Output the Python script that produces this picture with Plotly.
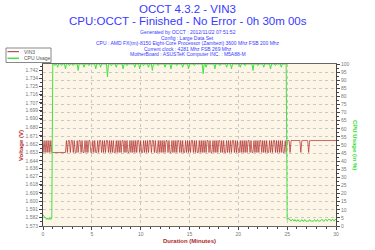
import plotly.graph_objects as go

# ---------------- data ----------------
SAMPLE_STEP_MIN = 0.1
TIME_MIN = [round(i * SAMPLE_STEP_MIN, 1) for i in range(301)]

CPU_USAGE = [
    7, 6, 5, 5, 4, 5, 4, 5, 4, 5,
    100, 100, 99, 100, 100, 98, 100, 100, 100, 99,
    100, 100, 100, 97, 100, 100, 100, 99, 100, 100,
    100, 99, 100, 100, 100, 100, 96, 100, 100, 100,
    100, 100, 98, 100, 100, 100, 100, 99, 100, 100,
    100, 100, 100, 100, 97, 100, 100, 100, 100, 98,
    100, 100, 100, 100, 100, 100, 92, 100, 100, 100,
    99, 100, 100, 100, 100, 98, 100, 100, 100, 100,
    100, 100, 97, 100, 100, 100, 99, 100, 100, 100,
    100, 100, 100, 100, 98, 100, 100, 100, 100, 97,
    100, 100, 100, 99, 100, 100, 100, 100, 98, 100,
    100, 100, 96, 100, 100, 100, 100, 100, 99, 100,
    100, 100, 100, 100, 100, 98, 100, 100, 100, 100,
    100, 97, 100, 100, 100, 100, 100, 99, 100, 100,
    100, 100, 100, 98, 100, 100, 100, 100, 100, 97,
    100, 100, 100, 100, 100, 99, 100, 100, 100, 100,
    100, 100, 100, 100, 94, 100, 100, 98, 100, 100,
    100, 100, 100, 100, 100, 100, 97, 100, 100, 100,
    100, 99, 100, 100, 100, 100, 100, 100, 98, 100,
    100, 100, 100, 97, 100, 100, 100, 100, 100, 100,
    100, 100, 98, 100, 100, 100, 100, 99, 100, 100,
    100, 100, 100, 100, 100, 96, 100, 100, 100, 100,
    99, 100, 100, 100, 100, 100, 98, 100, 100, 100,
    100, 100, 100, 97, 100, 100, 100, 100, 99, 100,
    100, 100, 100, 100, 98, 100, 100, 100, 100, 100,
    4, 5, 4, 4, 3, 4, 4, 3, 4, 3,
    3, 4, 3, 3, 3, 4, 3, 3, 4, 3,
    3, 3, 3, 4, 3, 3, 3, 3, 4, 3,
    3, 4, 3, 3, 3, 4, 4, 3, 3, 4,
    4, 3, 4, 4, 4, 3, 4, 4, 3, 4,
    4,
]

VOLT_LEVELS = {"H": 1.666, "L": 1.653}
VOLT_STATES = (
    "HLHLHLHLHL LLLLLLLLLL LLLLHLHHLH "
    "HLHLLHLHHL HLLHLHLHHL LHLHLLHLHH LHLHLHHLHL HLHLLHLHLH "
    "LHHLHLHLLH LHLHLHLHHL HLLHLHLHLH HLHHLHLLHL HLHLHLHHLH "
    "LLHLHLHLHH LHLHLLHLHL HLHHLHLHLL HLHLHLHLHH LHLLHLHLHL "
    "HHLHLHLLHL HLHLHHLHLH LLHLHLHLHL HHLHLLHLHL HLHHLHLHLH "
    "LLHLHLHHLH LHLHLHLLHL "
    "HHHLHHHHHH HHHHLHHHHH HHLHHHHHHH HHHHHHHHHH HHHHHHHHHH H"
).replace(" ", "")
VOLTAGE = [VOLT_LEVELS[s] for s in VOLT_STATES]

VOLT_TICK_LABELS = ["1.573", "1.582", "1.591", "1.600", "1.609", "1.618", "1.627",
                    "1.636", "1.644", "1.653", "1.662", "1.671", "1.680", "1.690",
                    "1.699", "1.707", "1.716", "1.725", "1.734", "1.742"]

TITLE = "OCCT 4.3.2 - VIN3"
SUBTITLE = "CPU:OCCT - Finished - No Error - 0h 30m 00s"
INFO_LINES = [
    "Generated by OCCT : 2012/11/22 07:51:52",
    "Config : Large Data Set",
    "CPU : AMD FX(tm)-8150 Eight-Core Processor (Zambezi) 3600 Mhz FSB 200 Mhz",
    "Current clock : 4281 Mhz FSB 269 Mhz",
    "MotherBoard : ASUSTeK Computer INC. : M5A88-M",
]

# ---------------- layout helpers ----------------
W, H = 375, 250
L, R, T, B = 43, 336, 64, 226
def px(x): return (x - L) / (R - L)
def py(y): return (B - y) / (B - T)

FONT = "Liberation Sans, Arial, sans-serif"
RED = "#b02a2a"
GREEN = "#44e044"
BLUE = "#3a3aff"
TICKC = "#777777"

fig = go.Figure()
fig.add_trace(go.Scatter(x=TIME_MIN, y=VOLTAGE, mode="lines", name="VIN3",
                         line=dict(color=RED, width=0.7), yaxis="y", showlegend=False))
fig.add_trace(go.Scatter(x=TIME_MIN, y=CPU_USAGE, mode="lines", name="CPU Usage",
                         line=dict(color=GREEN, width=1), yaxis="y2", showlegend=False))

tickfont = dict(family=FONT, size=5, color=TICKC)
fig.update_layout(
    width=W, height=H,
    margin=dict(l=L, r=W - R, t=T, b=H - B, pad=0),
    paper_bgcolor="white", plot_bgcolor="#fdf5e6",
    xaxis=dict(range=[0, 30], dtick=5, tick0=0, showgrid=True, gridcolor="#c8c8c8",
               griddash="dot", gridwidth=1, zeroline=False, showline=True,
               linecolor="#666666", linewidth=1, mirror=True, ticks="outside",
               ticklen=3, tickcolor="#444444", tickfont=tickfont,
               minor=dict(dtick=1, ticklen=2, tickcolor="#444444", showgrid=False)),
    yaxis=dict(range=[1.573, 1.7493], tickmode="array",
               tickvals=[float(s) for s in VOLT_TICK_LABELS], ticktext=VOLT_TICK_LABELS,
               showgrid=False, zeroline=False, showline=True, linecolor="#444444",
               linewidth=1, ticks="outside", ticklen=3, tickcolor="#444444",
               tickfont=tickfont,
               minor=dict(tick0=1.573, dtick=0.00445, ticklen=2, tickcolor="#444444")),
    yaxis2=dict(range=[0, 100], dtick=5, tick0=0, overlaying="y", side="right",
                showgrid=True, gridcolor="#c8c8c8", griddash="dot", gridwidth=1,
                zeroline=False, showline=True, linecolor="#444444", linewidth=1,
                ticks="outside", ticklen=3, tickcolor="#444444", tickfont=tickfont,
                minor=dict(dtick=2.5, ticklen=2, tickcolor="#444444")),
)

ann = []
ann.append(dict(text=TITLE, x=px(187.5), y=py(8.5), xref="paper", yref="paper",
                showarrow=False, xanchor="center", yanchor="middle",
                font=dict(family=FONT, size=11.5, color=BLUE)))
ann.append(dict(text=SUBTITLE, x=px(187.5), y=py(21.5), xref="paper", yref="paper",
                showarrow=False, xanchor="center", yanchor="middle",
                font=dict(family=FONT, size=11.5, color=BLUE)))
for i, line in enumerate(INFO_LINES):
    ann.append(dict(text=line, x=px(187.5), y=py(32.3 + i * 5.5), xref="paper", yref="paper",
                    showarrow=False, xanchor="center", yanchor="middle",
                    font=dict(family=FONT, size=5, color=BLUE)))
ann.append(dict(text="<b>Voltage (V)</b>", x=px(21), y=py(145), xref="paper", yref="paper",
                showarrow=False, textangle=-90, xanchor="center", yanchor="middle",
                font=dict(family=FONT, size=6, color=RED)))
ann.append(dict(text="<b>CPU Usage (in %)</b>", x=px(355), y=py(145), xref="paper", yref="paper",
                showarrow=False, textangle=90, xanchor="center", yanchor="middle",
                font=dict(family=FONT, size=6, color="#33dd33")))
ann.append(dict(text="<b>Duration (Minutes)</b>", x=px(189), y=py(241), xref="paper", yref="paper",
                showarrow=False, xanchor="center", yanchor="middle",
                font=dict(family=FONT, size=6, color=RED)))
# legend texts
ann.append(dict(text="VIN3", x=px(22), y=py(51.7), xref="paper", yref="paper",
                showarrow=False, xanchor="left", yanchor="middle",
                font=dict(family=FONT, size=5, color="#555555")))
ann.append(dict(text="CPU Usage", x=px(22), y=py(58.3), xref="paper", yref="paper",
                showarrow=False, xanchor="left", yanchor="middle",
                font=dict(family=FONT, size=5, color="#555555")))

shapes = [
    dict(type="rect", xref="paper", yref="paper", x0=px(6), x1=px(51), y0=py(62.5), y1=py(48),
         line=dict(color="#888888", width=1), fillcolor="white", layer="above"),
    dict(type="line", xref="paper", yref="paper", x0=px(7.5), x1=px(19), y0=py(51.7), y1=py(51.7),
         line=dict(color=RED, width=1), layer="above"),
    dict(type="line", xref="paper", yref="paper", x0=px(7.5), x1=px(19), y0=py(58.3), y1=py(58.3),
         line=dict(color=GREEN, width=1.5), layer="above"),
]
fig.update_layout(annotations=ann, shapes=shapes)

fig.write_html("out.html")
